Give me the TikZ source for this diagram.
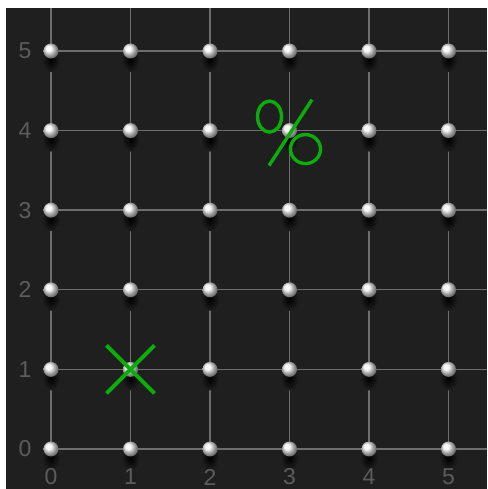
\documentclass[tikz,border=0pt]{standalone}
\usepackage{fontspec}
\setmainfont{Liberation Sans}
\definecolor{bg}{HTML}{1F1F1F}
\definecolor{gridc}{HTML}{6E6E6E}
\definecolor{labc}{HTML}{5C5C5C}
\definecolor{markc}{RGB}{12,172,12}
\tikzset{
  gridline/.style={draw=gridc, line width=1.4pt},
  dot/.style={circle, inner sep=0pt, minimum size=15pt, ball color=white!92!gray},
  dotshadow/.style={inner color=black, outer color=bg},
  axlabel/.style={text=labc, inner sep=0pt, font=\fontsize{23}{23}\selectfont},
  markline/.style={draw=markc, line width=3.8pt},
  pctline/.style={draw=markc, line width=3.4pt}
}
\begin{document}
\begin{tikzpicture}[x=1pt,y=1pt]
\useasboundingbox (0,0) rectangle (487,489);
\fill[bg] (6,0) rectangle (487,481);
\foreach \i in {0,...,5}{
  \coordinate (t\i) at ({51+79.5*\i},481);
  \coordinate (r\i) at (487,{40+79.6*\i});
  \foreach \j in {0,...,5}{
    \coordinate (c\i\j) at ({51+79.5*\i},{40+79.6*\j});
  }
}
% grid lines
\foreach \i in {0,...,5}{
  \draw[gridline] (c\i0) -- (t\i);
  \draw[gridline] (c0\i) -- (r\i);
}
% shadows
\foreach \i in {0,...,5}{
  \foreach \j in {0,...,5}{
    \shade[dotshadow] ([yshift=-9pt]c\i\j) ellipse (9pt and 12pt);
  }
}
% dots
\foreach \i in {0,...,5}{
  \foreach \j in {0,...,5}{
    \node[dot] (d\i\j) at (c\i\j) {};
  }
}
% axis labels
\foreach \k in {0,...,5}{
  \node[axlabel] (ly\k) at (25,{40+79.6*\k}) {\k};
  \node[axlabel] (lx\k) at ({51+79.5*\k},12) {\k};
}
% X mark at (1,1)
\draw[markline] ([shift={(-24,24)}]d11.center) -- ([shift={(24,-24)}]d11.center);
\draw[markline] ([shift={(24,24)}]d11.center) -- ([shift={(-24,-24)}]d11.center);
% percent mark at (3,4)
\draw[pctline] ([shift={(-20,14)}]d34.center) ellipse (12pt and 15.5pt);
\draw[pctline] ([shift={(16,-18.5)}]d34.center) ellipse (15pt and 14.5pt);
\draw[pctline] ([shift={(22.5,31)}]d34.center) -- ([shift={(-20.5,-35)}]d34.center);
\end{tikzpicture}
\end{document}
